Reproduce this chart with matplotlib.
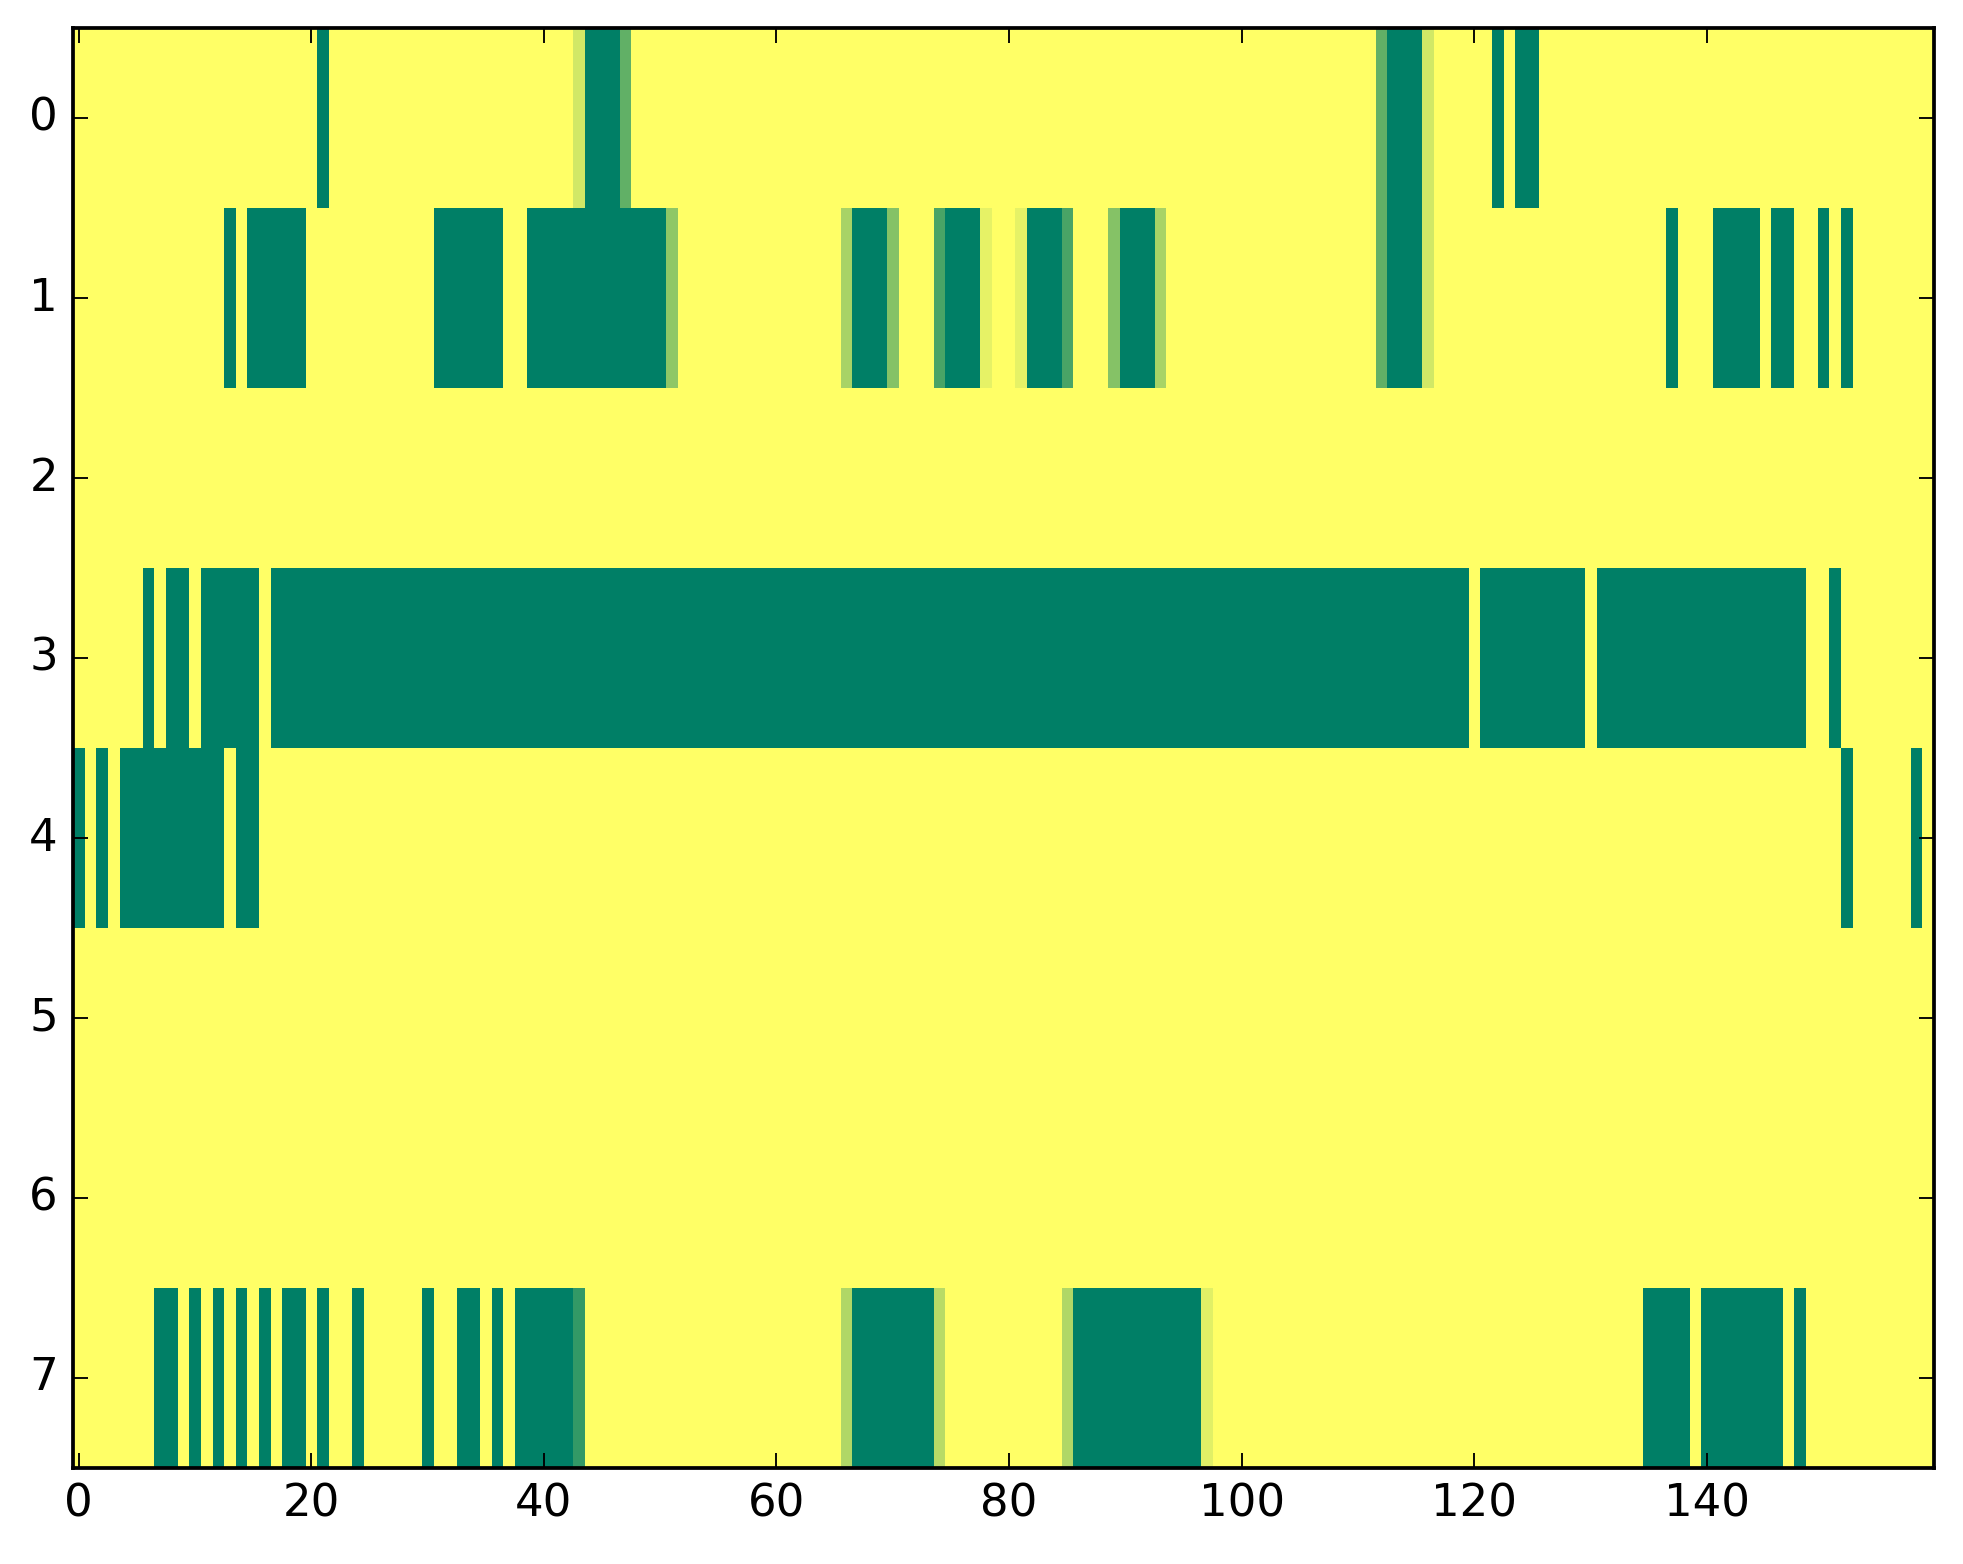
import matplotlib
matplotlib.use('Agg')
import matplotlib.pyplot as plt
import numpy as np

plt.style.use('classic')

N_ROWS, N_COLS = 8, 160

# low-valued (dark green) runs per row, inclusive (start, end) column indices
row0_low = [(21, 21), (44, 46), (113, 115), (122, 122), (124, 125)]
row1_low = [(13, 13), (15, 19), (31, 36), (39, 50), (67, 69), (75, 77), (82, 84),
            (90, 92), (113, 115), (137, 137), (141, 144), (146, 147), (150, 150), (152, 152)]
row2_low = []
row3_low = [(6, 6), (8, 9), (11, 15), (17, 119), (121, 129), (131, 148), (151, 151)]
row4_low = [(0, 0), (2, 2), (4, 12), (14, 15), (152, 152), (158, 158)]
row5_low = []
row6_low = []
row7_low = [(7, 8), (10, 10), (12, 12), (14, 14), (16, 16), (18, 19), (21, 21), (24, 24),
            (30, 30), (33, 34), (36, 36), (38, 42), (67, 73), (86, 96), (135, 138),
            (140, 146), (148, 148)]

# intermediate-valued cells per row: column -> value
row0_mid = {43: 0.82, 47: 0.38, 112: 0.38, 116: 0.82}
row1_mid = {51: 0.56, 66: 0.66, 70: 0.52, 74: 0.29, 78: 0.90, 81: 0.90, 85: 0.29,
            89: 0.52, 93: 0.66, 112: 0.38, 116: 0.82}
row7_mid = {43: 0.20, 66: 0.69, 74: 0.72, 85: 0.69, 97: 0.88}

low_runs = [row0_low, row1_low, row2_low, row3_low, row4_low, row5_low, row6_low, row7_low]
mid_cells = {0: row0_mid, 1: row1_mid, 7: row7_mid}

data = np.ones((N_ROWS, N_COLS))
for r, runs in enumerate(low_runs):
    for a, b in runs:
        data[r, a:b + 1] = 0.0
for r, cells in mid_cells.items():
    for c, v in cells.items():
        data[r, c] = v

DPI = 270
fig = plt.figure(figsize=(1963 / DPI, 1564 / DPI), dpi=DPI, facecolor='white')
ax = fig.add_axes([0.03714, 0.0614, 0.9479, 0.9205])
ax.imshow(data, cmap='summer', interpolation='nearest', aspect='auto', vmin=0, vmax=1)
ax.set_yticks(range(N_ROWS))
ax.set_xticks([0, 20, 40, 60, 80, 100, 120, 140])
ax.set_xlim(-0.5, N_COLS - 0.5)
ax.set_ylim(N_ROWS - 0.5, -0.5)
ax.tick_params(labelsize=12)

fig.savefig('out.png', dpi=DPI, facecolor='white')
